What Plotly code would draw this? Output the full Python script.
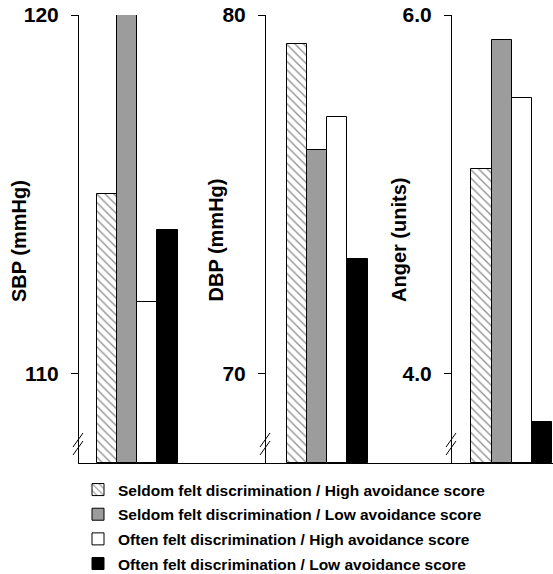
import plotly.graph_objects as go

# ---- data ----
groups = [
    "Seldom felt discrimination / High avoidance score",
    "Seldom felt discrimination / Low avoidance score",
    "Often felt discrimination / High avoidance score",
    "Often felt discrimination / Low avoidance score",
]
sbp = [115.0, 120.0, 112.0, 114.0]
dbp = [79.2, 76.25, 77.15, 73.2]
anger = [5.14, 5.86, 5.54, 3.73]
panel_titles = ["SBP (mmHg)", "DBP (mmHg)", "Anger (units)"]
panel_ticks = [[110, 120], [70, 80], [4.0, 6.0]]
panel_ticktext = [["110", "120"], ["70", "80"], ["4.0", "6.0"]]
panel_ranges = [[107.52, 120.0], [67.52, 80.0], [3.504, 6.0]]
panel_values = [sbp, dbp, anger]

# ---- styles ----
W, H = 553, 574
TOP, BOT = 15, 463
FONT = "Liberation Sans, Arial, Helvetica, sans-serif"
fills = ["white", "#9c9c9c", "white", "black"]
patterns = [
    dict(shape="\\", fgcolor="#1e1e1e", bgcolor="white", size=6, solidity=0.22),
    dict(shape=""), dict(shape=""), dict(shape=""),
]
axis_px = [79, 266, 452]
right_px = [266, 452, 553]
gap_px = [17.7, 20.7, 19.4]
bar_px = 20.25

fig = go.Figure()

for p, vals in enumerate(panel_values):
    xa = "x" if p == 0 else f"x{p+1}"
    ya = "y" if p == 0 else f"y{p+1}"
    for g, name in enumerate(groups):
        fig.add_trace(go.Bar(
            x=[g], y=[vals[g] - panel_ranges[p][0]], base=[panel_ranges[p][0]],
            width=1, name=name, legendgroup=name, showlegend=(p == 0),
            marker=dict(color=fills[g], pattern=patterns[g],
                        line=dict(color="black", width=1)),
            xaxis=xa, yaxis=ya, hoverinfo="skip",
        ))

layout = dict(
    width=W, height=H,
    margin=dict(l=0, r=0, t=TOP, b=H - BOT, pad=0, autoexpand=False),
    paper_bgcolor="white", plot_bgcolor="rgba(0,0,0,0)",
    bargap=0, barmode="overlay",
    font=dict(family=FONT, color="black"),
    showlegend=True,
    legend=dict(
        xref="container", yref="container",
        x=78 / W, xanchor="left", y=(H - 473) / H, yanchor="top",
        font=dict(family=FONT, size=15.5, color="black", weight="bold"),
        tracegroupgap=1.5, bgcolor="rgba(0,0,0,0)",
    ),
)

for p in range(3):
    sfx = "" if p == 0 else str(p + 1)
    dom = [axis_px[p] / W, min(1.0, right_px[p] / W)]
    left = -(gap_px[p] / bar_px + 0.5)
    rng = [left, left + (right_px[p] - axis_px[p]) / bar_px]
    layout["xaxis" + sfx] = dict(
        domain=dom, range=rng, showline=True, linecolor="black", linewidth=1,
        showticklabels=False, ticks="", showgrid=False, zeroline=False,
        anchor="y" + sfx, fixedrange=True,
    )
    layout["yaxis" + sfx] = dict(
        domain=[0, 1], range=panel_ranges[p], anchor="x" + sfx,
        showline=True, linecolor="black", linewidth=1,
        ticks="outside", ticklen=7, tickwidth=1, tickcolor="black",
        tickvals=panel_ticks[p], ticktext=panel_ticktext[p],
        ticklabelstandoff=8,
        tickfont=dict(family=FONT, size=21, color="black", weight="bold"),
        showgrid=False, zeroline=False, fixedrange=True,
    )

fig.update_layout(**layout)

# axis titles
title_x = [19, 215, 399]
for p in range(3):
    fig.add_annotation(
        text=panel_titles[p], textangle=-90, showarrow=False,
        x=title_x[p] / W, y=(BOT - 304) / (BOT - TOP), xref="paper", yref="paper",
        xanchor="center", yanchor="bottom",
        font=dict(family=FONT, size=20, color="black", weight="bold"),
    )

# axis-break marks
def py(Y):
    return (BOT - Y) / (BOT - TOP)

for ax in axis_px:
    for dy in (0, 8):
        fig.add_shape(type="line", xref="paper", yref="paper",
                      x0=(ax - 6) / W, y0=py(447 + dy), x1=(ax + 4) / W, y1=py(433 + dy),
                      line=dict(color="black", width=1))

fig.write_html(
    "out.html",
    config={"displayModeBar": False},
    post_script="document.body.style.margin='0';document.body.style.overflow='hidden';",
)
